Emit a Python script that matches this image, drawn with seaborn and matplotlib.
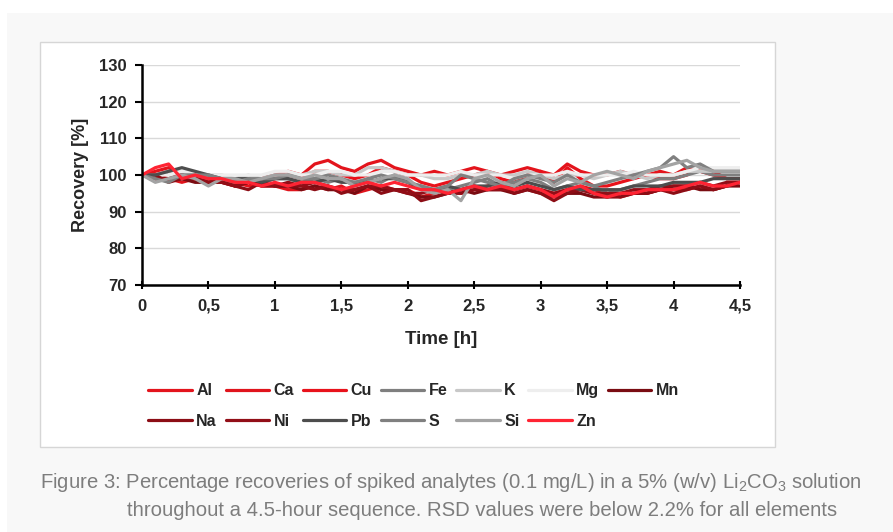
import numpy as np
import pandas as pd
import seaborn as sns
import matplotlib
matplotlib.use("Agg")
import matplotlib.pyplot as plt
from matplotlib.patches import Rectangle

# ---- data ----
time_h = [round(0.1 * i, 1) for i in range(46)]

al = [100,101,102,100,99,100,99,99,98,99,100,101,100,103,104,102,101,103,104,102,101,100,101,100,101,102,101,100,101,102,101,100,103,101,100,100,101,100,100,101,100,102,101,100,99,99]
ca = [100,100,99,98,99,98,98,97,98,97,97,96,96,97,96,97,95,96,97,96,96,94,95,96,95,96,97,98,96,97,96,95,96,97,96,95,94,95,95,96,96,96,97,96,97,98]
cu = [100,100,101,100,99,99,98,98,97,98,99,100,99,101,101,100,99,100,102,101,100,98,97,98,99,100,101,99,98,100,101,98,102,99,97,97,98,99,100,99,99,100,102,101,99,99]
fe = [100,99,101,100,100,99,98,99,99,98,99,99,98,99,98,99,97,99,98,100,98,97,96,96,97,98,99,97,98,99,98,96,97,98,97,95,96,97,98,99,99,100,101,100,100,100]
k  = [100,100,101,101,100,100,100,99,100,99,100,100,100,101,101,100,100,102,102,101,100,100,99,99,100,100,101,100,100,101,100,99,100,100,99,100,101,100,99,100,100,101,101,101,101,101]
mg = [100,100,100,101,101,100,100,100,100,100,101,101,100,100,101,101,100,100,101,101,100,100,100,100,101,100,100,100,99,100,100,100,101,100,100,100,100,101,100,100,100,101,102,102,102,102]
mn = [100,99,99,99,98,98,99,97,98,98,97,97,96,97,96,96,95,97,96,96,95,94,94,95,96,95,96,96,95,96,95,94,95,95,94,94,95,95,95,96,97,97,96,96,97,97]
na = [100,100,98,99,99,98,98,97,96,98,97,97,97,96,97,95,96,97,95,96,96,93,94,95,95,96,96,97,95,96,95,93,95,96,95,94,94,95,95,96,95,96,97,96,97,98]
ni = [100,99,99,100,99,98,98,97,98,97,97,98,97,98,97,96,96,97,97,96,95,95,96,95,96,97,96,96,96,97,96,95,96,96,95,95,95,96,96,97,97,97,98,97,98,98]
pb = [100,100,101,102,101,100,99,99,99,98,99,99,98,98,99,98,98,98,99,99,98,96,96,97,96,97,97,98,97,98,97,96,97,96,96,96,96,97,97,97,98,98,98,99,99,99]
s  = [100,99,98,100,100,100,99,98,99,99,99,100,99,99,100,99,98,99,100,99,98,97,96,97,100,99,98,97,99,100,99,98,100,98,97,98,99,100,101,102,105,102,103,101,101,101]
si = [100,98,99,100,99,97,99,99,98,99,100,100,99,100,99,99,97,98,99,100,99,96,95,96,93,99,100,98,97,99,100,97,99,98,100,101,100,99,101,102,103,104,102,101,101,101]
zn = [100,102,103,99,100,99,99,98,98,97,98,97,98,98,97,96,97,98,97,98,97,96,96,95,96,97,96,97,96,97,96,94,96,97,95,94,95,95,96,96,96,97,98,97,97,98]

elements = ["Al", "Ca", "Cu", "Fe", "K", "Mg", "Mn", "Na", "Ni", "Pb", "S", "Si", "Zn"]
series = [al, ca, cu, fe, k, mg, mn, na, ni, pb, s, si, zn]
colors = ["#e3141c", "#e0141c", "#e8121b", "#7f7f7f", "#c8c8c8", "#eeeeee",
          "#7a0c12", "#8c0d15", "#920e17", "#4d4d4d", "#808080", "#a3a3a3", "#ff2433"]

x_ticks = [0, 0.5, 1, 1.5, 2, 2.5, 3, 3.5, 4, 4.5]
x_tick_labels = ["0", "0,5", "1", "1,5", "2", "2,5", "3", "3,5", "4", "4,5"]
y_ticks = [70, 80, 90, 100, 110, 120, 130]

df = pd.DataFrame({
    "Time": np.tile(time_h, len(elements)),
    "Recovery": np.concatenate([np.array(v, float) for v in series]),
    "Element": np.repeat(elements, len(time_h)),
})

# ---- figure ----
sns.set_theme(style="white")
plt.rcParams["font.family"] = ["Liberation Sans", "DejaVu Sans"]
plt.rcParams["mathtext.fontset"] = "custom"

W, H = 893, 532
fig = plt.figure(figsize=(W / 100, H / 100), dpi=100)
fig.patch.set_facecolor("#f8f8f8")
# white outer margins
fig.patches.append(Rectangle((0, 1 - 13 / H), 1, 13 / H, transform=fig.transFigure,
                             facecolor="white", edgecolor="none", zorder=-10))
fig.patches.append(Rectangle((0, 0), 7 / W, 1, transform=fig.transFigure,
                             facecolor="white", edgecolor="none", zorder=-10))
# white chart panel
fig.patches.append(Rectangle((40 / W, 1 - 447 / H), 735 / W, 405 / H, transform=fig.transFigure,
                             facecolor="white", edgecolor="#d6d6d6", linewidth=1.0, zorder=-10))

ax = fig.add_axes([142 / W, 1 - 285 / H, 598 / W, 220 / H])
ax.set_facecolor("none")

palette = dict(zip(elements, colors))
sns.lineplot(data=df, x="Time", y="Recovery", hue="Element", hue_order=elements,
             palette=palette, linewidth=2.3, ax=ax, sort=False, estimator=None)

ax.set_xlim(0, 4.5)
ax.set_ylim(70, 130)
ax.set_yticks(y_ticks)
ax.set_xticks(x_ticks)
ax.set_xticklabels(x_tick_labels)
for lab in ax.get_xticklabels() + ax.get_yticklabels():
    lab.set_fontweight("bold")
    lab.set_fontsize(12)
ax.grid(axis="y", color="#d9d9d9", linewidth=1.0)
ax.set_axisbelow(True)
for sp in ["top", "right"]:
    ax.spines[sp].set_visible(False)
for sp in ["left", "bottom"]:
    ax.spines[sp].set_color("black")
    ax.spines[sp].set_linewidth(1.8)
ax.tick_params(axis="y", direction="out", length=5, width=1.5, color="black", pad=6, left=True)
ax.tick_params(axis="x", direction="inout", length=6, width=1.5, color="black", pad=7, bottom=True)

ax.set_xlabel("Time [h]", fontsize=13.5, fontweight="bold", labelpad=12)
ax.set_ylabel("Recovery [%]", fontsize=13, fontweight="bold", labelpad=7)

handles, labels = ax.get_legend_handles_labels()
for h in handles:
    h.set_linewidth(2.3)
hmap = dict(zip(labels, handles))
# column-major fill so that the legend reads row by row
order = ["Al", "Na", "Ca", "Ni", "Cu", "Pb", "Fe", "S", "K", "Si", "Mg", "Zn", "Mn"]
ax.legend([hmap[o] for o in order], order, ncol=7, loc="upper left",
          bbox_to_anchor=(134 / W, 1 - 369 / H), bbox_transform=fig.transFigure,
          frameon=False, handlelength=2.7, handletextpad=0.3, columnspacing=0.55,
          labelspacing=0.95, prop={"weight": "bold", "size": 11.5})

cap_font = ["Liberation Sans", "DejaVu Sans"]
fig.text(40 / W, 1 - 483 / H,
         r"Figure 3: Percentage recoveries of spiked analytes (0.1 mg/L) in a 5% (w/v) Li$_\mathregular{2}$CO$_\mathregular{3}$ solution",
         fontsize=14.6, color="#7d7d7d", family=cap_font, va="center", ha="left")
fig.text(127 / W, 1 - 511 / H,
         "throughout a 4.5-hour sequence. RSD values were below 2.2% for all elements",
         fontsize=14.6, color="#7d7d7d", family=cap_font, va="center", ha="left")

fig.savefig("out.png", dpi=100, facecolor=fig.get_facecolor())
